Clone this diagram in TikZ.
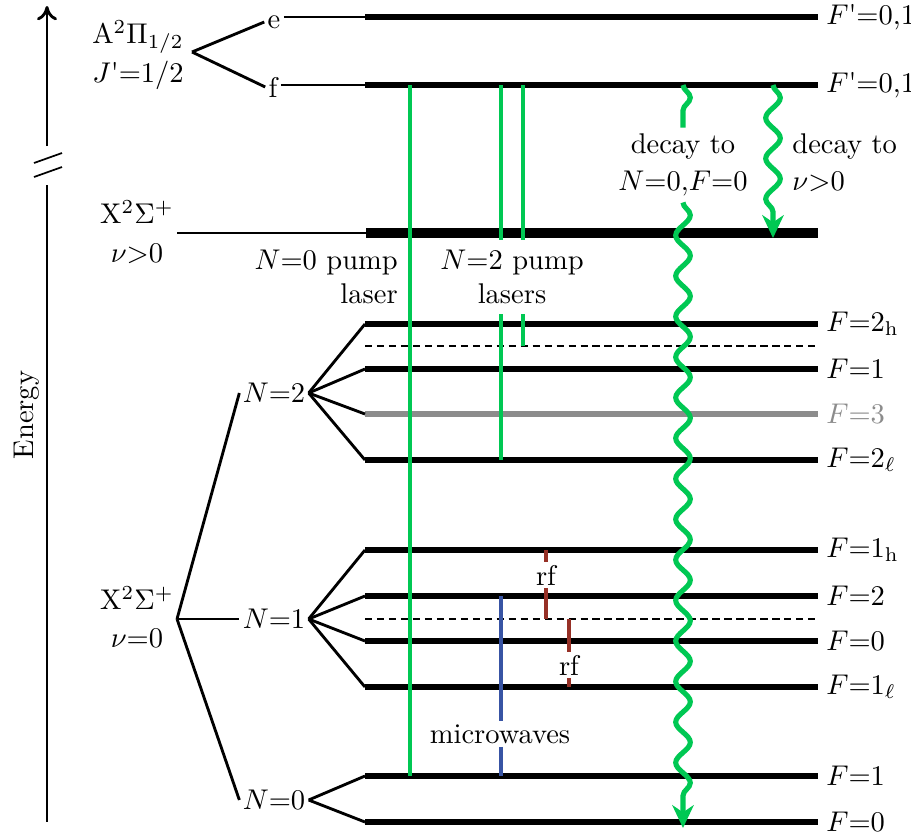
\documentclass[tikz,border=0pt]{standalone}
\usepackage{amsmath,amssymb}
\usepackage{tikz}
\usetikzlibrary{arrows.meta}
\usetikzlibrary{decorations.pathmorphing}
\definecolor{pumpgreen}{RGB}{0,200,83}
\definecolor{mwblue}{RGB}{56,84,164}
\definecolor{rfred}{RGB}{150,48,38}
\definecolor{levelgray}{RGB}{140,140,140}
\tikzset{
    level diagram/.style={
            x=0.01233cm,y=-0.01233cm,
            energyaxis/.style={line width=1pt},
            lvl/.style={line width=1.8pt},
            hfdash/.style={line width=1pt,dash pattern=on 2.6pt off 1.6pt},
            fan/.style={line width=1pt},
            flabel/.style={anchor=west,inner sep=2pt},
            sublabel/.style={inner sep=1pt},
            stack/.style={align=center},
            pump/.style={pumpgreen,line width=1.6pt},
            mwline/.style={mwblue,line width=1.6pt},
            rfline/.style={rfred,line width=1.6pt},
            decay/.style={pumpgreen,line width=1.8pt,decorate,
                    decoration={snake,amplitude=0.09cm,segment length=0.5cm}},
            decayarrow/.style={decay,decoration={post length=9pt},
                    -{Stealth[length=8pt,width=7.5pt,inset=2.5pt]}}
        }
    }
\newcommand{\Xstate}{\mathrm{X}^2\Sigma^+}
\newcommand{\Fp}{$F$\textquotesingle=0,1}

\begin{document}
\begin{tikzpicture}[level diagram]
    \useasboundingbox (0,0) rectangle (911,839);

    % energy axis with break
    \draw [energyaxis,-{To[length=5pt,width=7pt]}] (47,146) -- (47,6);
    \draw [energyaxis] (47,185) -- (47,822);
    \draw [line width=0.6pt] (34,163) -- (62,153);
    \draw [line width=0.6pt] (34,177) -- (62,167);
    \node (energy) [rotate=90] at (27,415) {Energy};

    % excited state A
    \node (A) [stack] at (138,55) {$\mathrm{A}^2\Pi_{1/2}$\\[1.5pt]$J$\textquotesingle=1/2};
    \coordinate (Afork) at (192,52);
    \node (e) [sublabel] at (274,22) {e};
    \node (f) [sublabel] at (273,87) {f};
    \coordinate (eL) at (365,17);
    \coordinate (fL) at (365,85);
    \draw [fan] (Afork) -- (e.west);
    \draw [fan] (Afork) -- (f.west);
    \draw [fan] (e.east |- eL) -- (eL);
    \draw [fan] (f.east |- fL) -- (fL);
    \draw [lvl] (eL) -- (818,17) node (Fe) [flabel] {\Fp};
    \draw [lvl] (fL) -- (818,85) node (Ff) [flabel] {\Fp};

    % X state, v>0
    \node (Xhi) [stack,inner sep=1pt] at (137,232) {$\Xstate$\\[1.5pt]$\nu{>}0$};
    \coordinate (vL) at (366,233);
    \draw [fan] (Xhi.east |- vL) -- (vL);
    \draw [lvl,line width=3.5pt] (vL) -- (818,233);

    % X state, v=0
    \node (Xlo) [stack] at (137,617) {$\Xstate$\\[1.5pt]$\nu{=}0$};
    \coordinate (Xfork) at (177,619);
    \node (N2) [sublabel] at (274,393) {$N{=}2$};
    \node (N1) [sublabel] at (274,619) {$N{=}1$};
    \node (N0) [sublabel] at (274,800) {$N{=}0$};
    \foreach \n in {N2,N1,N0}
        \draw [fan] (Xfork) -- (\n.west);

    % N=2
    \draw [lvl] (365,324) coordinate (N2a) -- (818,324) node (F2h) [flabel] {$F{=}2_\mathrm{h}$};
    \draw [hfdash] (365,346) coordinate (N2x) -- (818,346);
    \draw [lvl] (365,369) coordinate (N2b) -- (818,369) node (F21) [flabel] {$F{=}1$};
    \draw [lvl,levelgray] (365,414) coordinate (N2c) -- (818,414) node (F23) [flabel] {$F{=}3$};
    \draw [lvl] (365,460) coordinate (N2d) -- (818,460) node (F2l) [flabel] {$F{=}2_\ell$};
    \foreach \c in {N2a,N2b,N2c,N2d}
        \draw [fan] (N2.east) -- (\c);

    % N=1
    \draw [lvl] (365,550) coordinate (N1a) -- (818,550) node (F1h) [flabel] {$F{=}1_\mathrm{h}$};
    \draw [lvl] (365,596) coordinate (N1b) -- (818,596) node (F12) [flabel] {$F{=}2$};
    \draw [hfdash] (365,619) coordinate (N1x) -- (818,619);
    \draw [lvl] (365,641) coordinate (N1c) -- (818,641) node (F10) [flabel] {$F{=}0$};
    \draw [lvl] (365,687) coordinate (N1d) -- (818,687) node (F1l) [flabel] {$F{=}1_\ell$};
    \foreach \c in {N1a,N1b,N1c,N1d}
        \draw [fan] (N1.east) -- (\c);

    % N=0
    \draw [lvl] (365,776) coordinate (N0a) -- (818,776) node (F01) [flabel] {$F{=}1$};
    \draw [lvl] (365,822) coordinate (N0b) -- (818,822) node (F00) [flabel] {$F{=}0$};
    \foreach \c in {N0a,N0b}
        \draw [fan] (N0.east) -- (\c);

    % pump lasers
    \coordinate (xp0) at (410,0);
    \coordinate (xp2a) at (501,0);
    \coordinate (xp2b) at (523,0);
    \node (P0) [stack,align=right,anchor=east,inner sep=2pt] at (404,277) {$N{=}0$ pump\\laser};
    \node (P2) [stack] at (512,277) {$N{=}2$ pump\\lasers};
    \draw [pump] (fL -| xp0) -- (N0a -| xp0);
    \draw [pump] (fL -| xp2a) -- (P2.north -| xp2a);
    \draw [pump] (P2.south -| xp2a) -- (N2d -| xp2a);
    \draw [pump] (fL -| xp2b) -- (P2.north -| xp2b);
    \draw [pump] (P2.south -| xp2b) -- (N2x -| xp2b);

    % spontaneous decay
    \coordinate (d0end) at (683,828);
    \coordinate (d1end) at (773,238);
    \node (D0) [stack,inner sep=2pt] at (683,165) {decay to\\[1pt]$N{=}0{,}F{=}0$};
    \node (D1) [stack,align=left,anchor=west,inner sep=1pt] at (789,163) {decay to\\[1pt]$\nu{>}0$};
    \draw [decay] (fL -| d0end) -- (D0.north);
    \draw [decayarrow] (D0.south) -- (d0end);
    \draw [decayarrow] (fL -| d1end) -- (d1end);

    % microwaves and rf
    \coordinate (xmw) at (501,0);
    \node (MW) [sublabel] at (500,734) {microwaves};
    \draw [mwline] (N1b -| xmw) -- (MW.north -| xmw);
    \draw [mwline] (MW.south -| xmw) -- (N0a -| xmw);
    \node (rf1) [sublabel] at (546,575) {rf};
    \node (rf2) [sublabel] at (569,665) {rf};
    \draw [rfline] (N1a -| rf1) -- (rf1.north);
    \draw [rfline] (rf1.south) -- (N1x -| rf1);
    \draw [rfline] (N1x -| rf2) -- (rf2.north);
    \draw [rfline] (rf2.south) -- (N1d -| rf2);
\end{tikzpicture}
\end{document}
